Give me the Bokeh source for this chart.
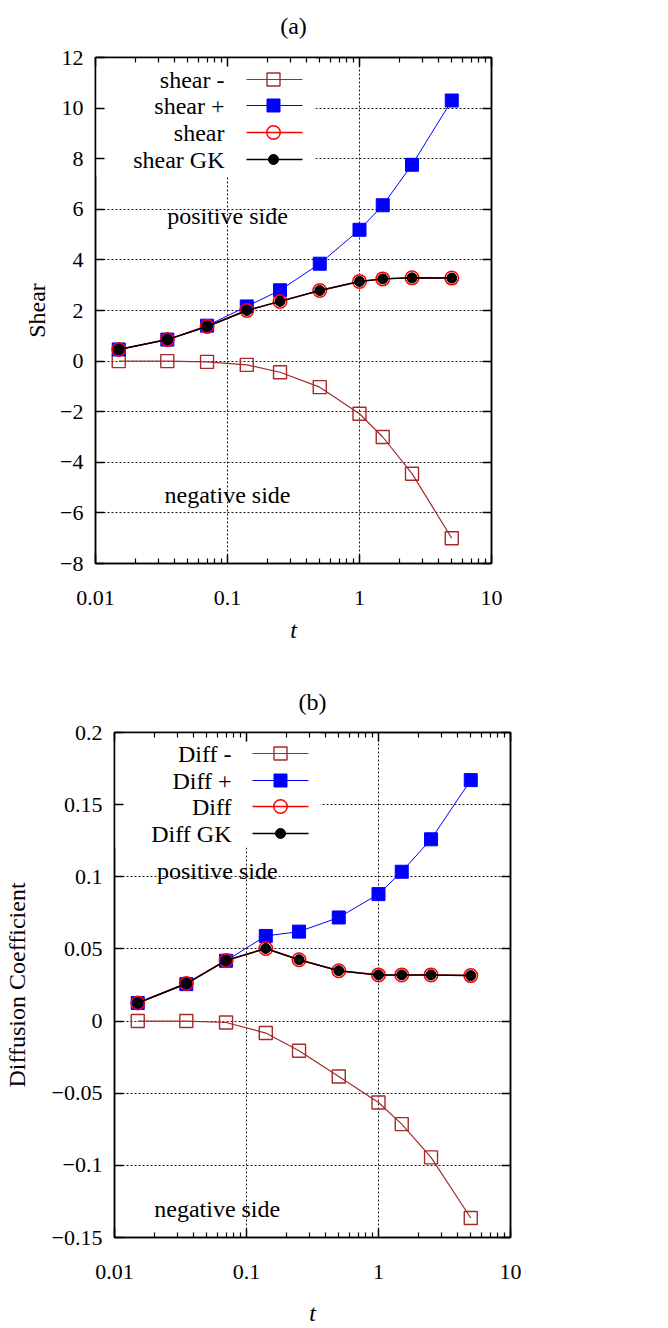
import math
from bokeh.plotting import figure
from bokeh.models import (FixedTicker, CustomJSTickFormatter, LinearAxis, LogAxis,
                          BoxAnnotation)
from bokeh.core.properties import value
from bokeh.embed import file_html
from bokeh.resources import INLINE

# ---------------- data ----------------
t = [0.015, 0.035, 0.07, 0.14, 0.25, 0.5, 1.0, 1.5, 2.5, 5.0]

shear_minus = [0.0, 0.0, -0.03, -0.15, -0.44, -1.03, -2.08, -3.0, -4.45, -7.0]
shear_plus = [0.46, 0.85, 1.4, 2.16, 2.8, 3.85, 5.19, 6.16, 7.76, 10.3]
shear = [0.46, 0.85, 1.37, 2.0, 2.36, 2.79, 3.15, 3.25, 3.29, 3.28]
shear_gk = [0.46, 0.85, 1.37, 2.0, 2.36, 2.79, 3.15, 3.25, 3.29, 3.28]

diff_minus = [0.0, 0.0, -0.001, -0.0083, -0.0206, -0.0384, -0.0564, -0.0714, -0.0945, -0.1365]
diff_plus = [0.0125, 0.0256, 0.0418, 0.059, 0.062, 0.0718, 0.088, 0.1035, 0.126, 0.167]
diff = [0.0125, 0.026, 0.042, 0.0503, 0.0425, 0.0349, 0.032, 0.032, 0.032, 0.0315]
diff_gk = [0.0125, 0.026, 0.042, 0.0503, 0.0425, 0.0349, 0.032, 0.032, 0.032, 0.0315]

x_ticks = [0.01, 0.1, 1, 10]
y_ticks_a = [-8, -6, -4, -2, 0, 2, 4, 6, 8, 10, 12]
y_ticks_b = [-0.15, -0.1, -0.05, 0, 0.05, 0.1, 0.15, 0.2]

labels_a = ["shear -", "shear +", "shear", "shear GK"]
labels_b = ["Diff -", "Diff +", "Diff", "Diff GK"]

FONT = "Liberation Serif"
BROWN = "#a52a2a"
FW = 396

minor_x = [m * 10 ** e for e in (-2, -1, 0) for m in range(2, 10)]

styles = [
    dict(line=dict(color=BROWN, line_width=1.2),
         mk=dict(marker="square", size=13, fill_color=None, line_color=BROWN, line_width=1.4)),
    dict(line=dict(color="blue", line_width=1.0),
         mk=dict(marker="square", size=13, fill_color="blue", line_color="blue", line_width=1)),
    dict(line=dict(color="red", line_width=1.5),
         mk=dict(marker="circle", size=13.5, fill_color=None, line_color="red", line_width=1.5)),
    dict(line=dict(color="black", line_width=1.5),
         mk=dict(marker="circle", size=10, fill_color="black", line_color="black", line_width=1)),
]


def make_panel(title, ylabel, yr, yticks, series, labels, FH, borders, stand, leg, texts):
    bl, br, bt, bb = borders
    ylab_s, xtick_s, xlab_s, title_s = stand
    p = figure(x_axis_type="log", x_range=(0.01, 10), y_range=yr,
               width=bl + FW + br, height=bt + FH + bb,
               min_border_left=bl, min_border_right=br,
               min_border_top=bt, min_border_bottom=bb,
               output_backend="svg", toolbar_location=None,
               background_fill_color="white", border_fill_color="white")
    p.outline_line_color = "black"
    p.outline_line_width = 1.5

    bottom = p.below[0]
    left = p.left[0]

    xt = FixedTicker(ticks=x_ticks, minor_ticks=minor_x)
    yt = FixedTicker(ticks=yticks, minor_ticks=[])
    xfmt = CustomJSTickFormatter(code="return tick.toString();")
    yfmt = CustomJSTickFormatter(code="return tick.toString().replace('-', '\u2212');")
    blank = CustomJSTickFormatter(code="return '';")

    top = LogAxis(ticker=xt, formatter=blank)
    right = LinearAxis(ticker=yt, formatter=blank)
    p.add_layout(top, "above")
    p.add_layout(right, "right")

    for ax in [bottom, top]:
        ax.ticker = xt
        ax.major_tick_in = 9
        ax.major_tick_out = 0
        ax.minor_tick_in = 5
        ax.minor_tick_out = 0
    for ax in [left, right]:
        ax.ticker = yt
        ax.major_tick_in = 9
        ax.major_tick_out = 0
        ax.minor_tick_in = 0
        ax.minor_tick_out = 0
    for ax in [bottom, top, left, right]:
        ax.axis_line_width = 1.5
        ax.major_tick_line_width = 1.5
        ax.minor_tick_line_width = 1.2
        ax.major_label_text_font = FONT
        ax.major_label_text_font_size = "22px"
        ax.major_label_text_color = "black"
    top.major_label_standoff = 0
    right.major_label_standoff = 0

    bottom.formatter = xfmt
    left.formatter = yfmt
    bottom.major_label_standoff = xtick_s
    left.major_label_standoff = 12
    bottom.axis_label = "t"
    bottom.axis_label_text_font_style = "italic"
    left.axis_label = ylabel
    left.axis_label_text_font_style = "normal"
    top.axis_label = title
    top.axis_label_text_font_style = "normal"
    for ax in [bottom, left, top]:
        ax.axis_label_text_font = FONT
        ax.axis_label_text_font_size = "24px"
        ax.axis_label_text_color = "black"
    bottom.axis_label_standoff = xlab_s
    left.axis_label_standoff = ylab_s
    top.axis_label_standoff = title_s

    p.xgrid.ticker = FixedTicker(ticks=[0.1, 1])
    p.ygrid.ticker = FixedTicker(ticks=yticks[1:-1])
    for g in [p.xgrid, p.ygrid]:
        g.grid_line_color = "black"
        g.grid_line_dash = "2 2"
        g.grid_line_width = 1
        g.grid_line_alpha = 0.9

    y0, y1 = yr

    def fx(px):
        return 10 ** (-2 + 3 * px / FW)

    def fy(py):
        return y1 - (y1 - y0) * py / FH

    # legend background (covers grid only)
    box_right, box_bottom, txt_right, ln_a, ln_b, mk_x, rows = leg
    p.add_layout(BoxAnnotation(right=fx(box_right), bottom=fy(box_bottom),
                               fill_color="white", fill_alpha=1, line_color=None,
                               level="underlay"))

    for ys, st in zip(series, styles):
        p.line(t, ys, **st["line"])
        p.scatter(t, ys, **st["mk"])

    for lab, ry, st in zip(labels, rows, styles):
        yy = fy(ry)
        p.line([fx(ln_a), fx(ln_b)], [yy, yy], **st["line"])
        p.scatter([fx(mk_x)], [yy], **st["mk"])
        p.text([fx(txt_right)], [yy], text=[lab], text_align="right",
               text_baseline="middle", text_font=value(FONT),
               text_font_size="24px", text_color="black")

    for (tx, ty, s) in texts:
        p.text([tx], [ty], text=[s], text_align="center", text_baseline="middle",
               text_font=value(FONT), text_font_size="24px", text_color="black")
    return p


pa = make_panel("(a)", "Shear", (-8, 12), y_ticks_a,
                [shear_minus, shear_plus, shear, shear_gk], labels_a, 506,
                (95, 169, 57, 100), (7, 27, 9, 19),
                (220, 119, 129, 151, 207, 178, [22, 48, 75, 102]),
                [(0.1, 5.75, "positive side"), (0.1, -5.3, "negative side")])

pb = make_panel("(b)", "Diffusion Coefficient", (-0.15, 0.2), y_ticks_b,
                [diff_minus, diff_plus, diff, diff_gk], labels_b, 505,
                (114, 150, 69, 91), (19, 27, 18, 18),
                (206, 115, 117, 138, 194, 166, [21, 48, 74, 101]),
                [(0.06, 0.104, "positive side"), (0.06, -0.13, "negative side")])

open("out.html", "w").write(file_html([pa, pb], INLINE))
